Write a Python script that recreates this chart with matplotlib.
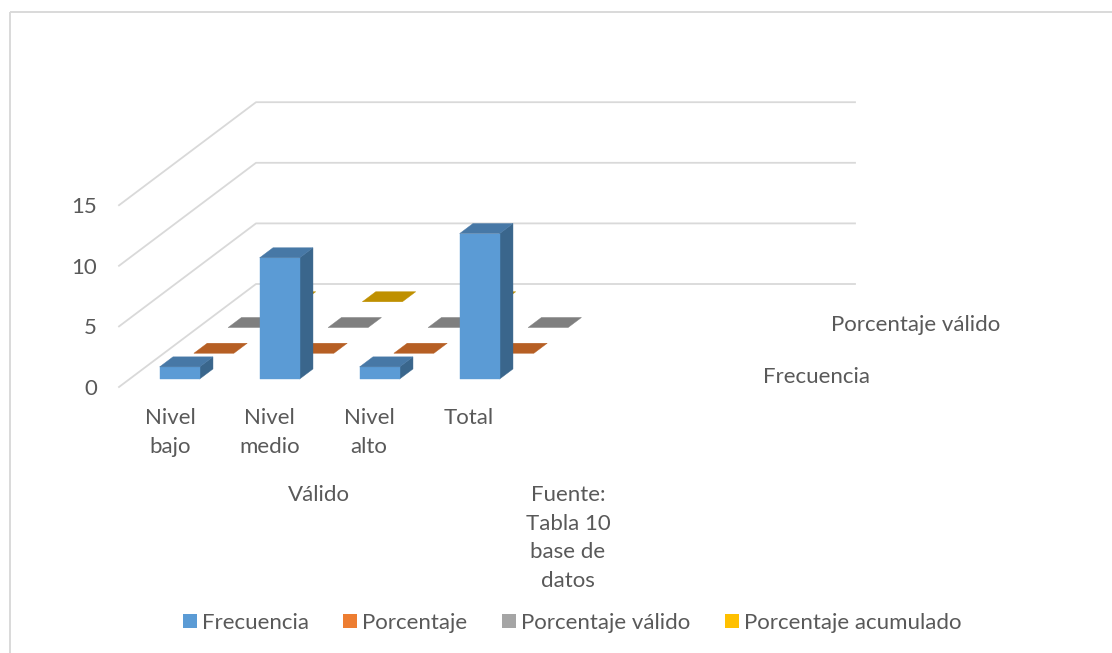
import numpy as np
import matplotlib
matplotlib.use("Agg")
import matplotlib.pyplot as plt
from matplotlib.patches import Patch, Polygon, Rectangle

categories = ["Nivel\nbajo", "Nivel\nmedio", "Nivel\nalto", "Total"]
frecuencia = [1, 10, 1, 12]
porcentaje = [0, 0, 0, 0]
porcentaje_valido = [0, 0, 0, 0]
porcentaje_acumulado = [0, 0, 0, None]
series_names = ["Frecuencia", "Porcentaje", "Porcentaje válido", "Porcentaje acumulado"]
series_values = [frecuencia, porcentaje, porcentaje_valido, porcentaje_acumulado]
z_ticks = [0, 5, 10, 15]

plt.rcParams["font.family"] = ["Lato", "DejaVu Sans"]
TXT = "#595959"
FS = 16

front = ["#5B9BD5", "#ED7D31", "#A5A5A5", "#FFC000"]
top = ["#4778A6", "#B65F24", "#7F7F7F", "#BF9000"]
side = ["#3A668C", "#9E5220", "#6E6E6E", "#A67D00"]

fig = plt.figure(figsize=(11.12, 6.53), dpi=100)
ax = fig.add_axes([0, 0, 1, 1])
ax.set_xlim(0, 1112)
ax.set_ylim(653, 0)
ax.axis("off")

# oblique projection of the 3-D chart box
X0, Y0, CAT_W, ROW_DX, ROW_DY, Z_U = 119, 387, 100, 34.25, -25.75, 12.12


def proj(c, d, z):
    return (X0 + CAT_W * c + ROW_DX * d, Y0 + ROW_DY * d - Z_U * z)


# chart border
for xs, ys in (([10, 10], [653, 12]), ([10, 1112], [12, 12])):
    ax.plot(xs, ys, color="#D9D9D9", lw=1.4, solid_capstyle="butt")

# walls
N_ROWS = len(series_names)
N_CATS_AXIS = 5.99
for z in z_ticks:
    pts = [proj(0, 0, z), proj(0, N_ROWS, z), proj(N_CATS_AXIS, N_ROWS, z)]
    ax.plot(*zip(*pts), color="#D9D9D9", lw=1.3, zorder=1)
    ax.text(97, Y0 - Z_U * z + 2, str(z), ha="right", va="center", fontsize=FS, color=TXT)

# bars, from back row to front row
BAR_W, BAR_D = 0.4, 0.39
zo = 2
for r in range(N_ROWS - 1, -1, -1):
    for i, v in enumerate(series_values[r]):
        if v is None:
            continue
        c0, c1 = i + 0.5 - BAR_W / 2, i + 0.5 + BAR_W / 2
        d0, d1 = r + 0.31, r + 0.31 + BAR_D
        faces = [
            ([proj(c1, d0, 0), proj(c1, d1, 0), proj(c1, d1, v), proj(c1, d0, v)], side[r]),
            ([proj(c0, d0, 0), proj(c1, d0, 0), proj(c1, d0, v), proj(c0, d0, v)], front[r]),
            ([proj(c0, d0, v), proj(c1, d0, v), proj(c1, d1, v), proj(c0, d1, v)], top[r]),
        ]
        for pts, col in faces:
            if v == 0 and col != top[r]:
                continue
            ax.add_patch(Polygon(pts, closed=True, facecolor=col, edgecolor=col, lw=0.3, zorder=zo))
        zo += 1

# category labels
for i, lab in enumerate(categories):
    ax.text(170 + 99.5 * i, 408, lab, ha="center", va="top", fontsize=FS, color=TXT, linespacing=1.55)
ax.text(319, 495, "Válido", ha="center", va="center", fontsize=FS, color=TXT)
ax.text(568, 538, "Fuente:\nTabla 10\nbase de\ndatos", ha="center", va="center", fontsize=FS,
        color=TXT, linespacing=1.55)

# series axis labels
ax.text(831, 325, series_names[2], ha="left", va="center", fontsize=FS, color=TXT)
ax.text(763, 377, series_names[0], ha="left", va="center", fontsize=FS, color=TXT)

# legend
handles = [Patch(facecolor=c, edgecolor=c, lw=0) for c in front]
ax.legend(handles, series_names, ncol=4, loc="center", bbox_to_anchor=(572, 623),
          bbox_transform=ax.transData, frameon=False, fontsize=FS, labelcolor=TXT,
          handlelength=0.63, handleheight=0.63, handletextpad=0.23, columnspacing=1.55,
          borderpad=0, borderaxespad=0)

fig.savefig("out.png", dpi=100, facecolor="white")
